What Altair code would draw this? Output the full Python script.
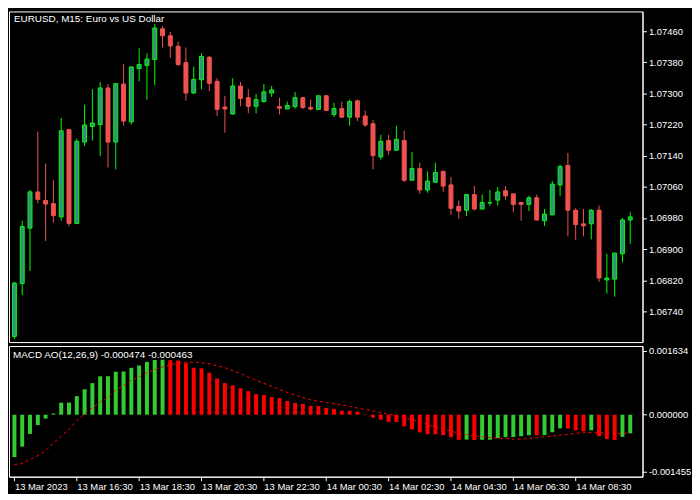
import altair as alt
import pandas as pd
import json

FONT = "Liberation Sans"

title_text = "EURUSD, M15:  Euro vs US Dollar"

opens = [1.06676, 1.06812, 1.06954, 1.07047, 1.07025, 1.07017, 1.06983, 1.07207, 1.06966, 1.07175,
         1.07215, 1.07220, 1.07314, 1.07175, 1.07324, 1.07227, 1.07364, 1.07372, 1.07387, 1.07466,
         1.07448, 1.07421, 1.07379, 1.07301, 1.07335, 1.07393, 1.07331, 1.07265, 1.07247, 1.07319,
         1.07289, 1.07267, 1.07279, 1.07301, 1.07266, 1.07260, 1.07266, 1.07289, 1.07264, 1.07259,
         1.07294, 1.07246, 1.07261, 1.07239, 1.07281, 1.07242, 1.07222, 1.07137, 1.07179, 1.07154,
         1.07179, 1.07077, 1.07107, 1.07052, 1.07072, 1.07100, 1.07065, 1.07010, 1.07000, 1.07040,
         1.07003, 1.07019, 1.07026, 1.07050, 1.07042, 1.07020, 1.07015, 1.07032, 1.06973, 1.06988,
         1.07065, 1.07115, 1.07000, 1.06965, 1.06965, 1.07000, 1.06821, 1.06823, 1.06888, 1.06975]
highs = [1.06816, 1.06973, 1.07052, 1.07202, 1.07120, 1.07077, 1.07237, 1.07207, 1.07184, 1.07271,
         1.07311, 1.07329, 1.07324, 1.07326, 1.07376, 1.07369, 1.07416, 1.07403, 1.07478, 1.07473,
         1.07458, 1.07433, 1.07418, 1.07369, 1.07403, 1.07396, 1.07339, 1.07294, 1.07339, 1.07329,
         1.07311, 1.07299, 1.07324, 1.07319, 1.07289, 1.07279, 1.07304, 1.07291, 1.07284, 1.07294,
         1.07296, 1.07276, 1.07279, 1.07284, 1.07284, 1.07256, 1.07232, 1.07194, 1.07194, 1.07217,
         1.07204, 1.07150, 1.07122, 1.07100, 1.07122, 1.07100, 1.07085, 1.07025, 1.07042, 1.07062,
         1.07040, 1.07052, 1.07060, 1.07062, 1.07042, 1.07020, 1.07037, 1.07040, 1.07003, 1.07075,
         1.07117, 1.07147, 1.07005, 1.07003, 1.07003, 1.07012, 1.06888, 1.06890, 1.06980, 1.06995]
lows = [1.06669, 1.06782, 1.06844, 1.07018, 1.06921, 1.06968, 1.06973, 1.06959, 1.06966, 1.07165,
        1.07179, 1.07139, 1.07110, 1.07105, 1.07217, 1.07220, 1.07331, 1.07284, 1.07321, 1.07418,
        1.07391, 1.07371, 1.07281, 1.07299, 1.07311, 1.07306, 1.07242, 1.07199, 1.07246, 1.07267,
        1.07249, 1.07249, 1.07276, 1.07291, 1.07246, 1.07260, 1.07261, 1.07259, 1.07256, 1.07259,
        1.07256, 1.07239, 1.07237, 1.07217, 1.07229, 1.07214, 1.07105, 1.07130, 1.07142, 1.07154,
        1.07072, 1.07077, 1.07042, 1.07045, 1.07070, 1.07047, 1.06988, 1.06978, 1.06985, 1.07000,
        1.07003, 1.07012, 1.07012, 1.07027, 1.06995, 1.06973, 1.06998, 1.06973, 1.06960, 1.06988,
        1.07037, 1.06933, 1.06923, 1.06933, 1.06925, 1.06816, 1.06786, 1.06778, 1.06866, 1.06913]
closes = [1.06813, 1.06958, 1.07047, 1.07028, 1.07016, 1.06986, 1.07204, 1.06966, 1.07177, 1.07219,
          1.07224, 1.07314, 1.07175, 1.07325, 1.07229, 1.07368, 1.07374, 1.07388, 1.07468, 1.07448,
          1.07422, 1.07374, 1.07301, 1.07336, 1.07395, 1.07326, 1.07259, 1.07260, 1.07319, 1.07287,
          1.07267, 1.07284, 1.07304, 1.07309, 1.07262, 1.07269, 1.07289, 1.07264, 1.07260, 1.07294,
          1.07256, 1.07261, 1.07239, 1.07279, 1.07239, 1.07219, 1.07140, 1.07177, 1.07154, 1.07182,
          1.07077, 1.07107, 1.07052, 1.07075, 1.07097, 1.07062, 1.07005, 1.06998, 1.07040, 1.07003,
          1.07020, 1.07019, 1.07047, 1.07037, 1.07015, 1.07015, 1.07032, 1.06975, 1.06990, 1.07067,
          1.07112, 1.07000, 1.06963, 1.06960, 1.07000, 1.06826, 1.06826, 1.06890, 1.06975, 1.06983]

macd = [-0.00108, -0.000814, -0.00049, -0.000266, -0.0001, 0.00003, 0.000306, 0.00031, 0.000473, 0.000647,
        0.000804, 0.000979, 0.00098, 0.001096, 0.0011, 0.001195, 0.001253, 0.001345, 0.001394, 0.0014,
        0.00139, 0.00138, 0.00131, 0.001195, 0.00118, 0.00107, 0.00092, 0.000805, 0.000747, 0.000672,
        0.000598, 0.000523, 0.000498, 0.000448, 0.000423, 0.000349, 0.000299, 0.000274, 0.000224, 0.00022,
        0.000174, 0.000149, 0.0001, 0.000099, 0.000075, 0.00001, -0.000075, -0.000125, -0.000183, -0.000185,
        -0.000299, -0.000374, -0.000448, -0.000498, -0.0005, -0.000523, -0.000573, -0.00064, -0.000635, -0.000645,
        -0.00064, -0.000638, -0.000598, -0.000573, -0.00057, -0.000548, -0.000523, -0.000526, -0.00052, -0.000448,
        -0.000349, -0.000352, -0.000398, -0.000423, -0.000398, -0.000548, -0.000623, -0.000645, -0.000565, -0.000474]

signal = [-0.00127, -0.001245, -0.001145, -0.001046, -0.00092, -0.00072, -0.000548, -0.000374, -0.00015, 0.000025,
          0.000174, 0.000324, 0.000448, 0.000623, 0.000747, 0.00087, 0.00097, 0.00107, 0.001145, 0.00122,
          0.00127, 0.00132, 0.001337, 0.00134, 0.00132, 0.0013, 0.001245, 0.0012, 0.00112, 0.00105,
          0.00096, 0.00088, 0.0008, 0.00072, 0.00064, 0.00057, 0.0005, 0.00044, 0.00038, 0.00034,
          0.00031, 0.00028, 0.00025, 0.00021, 0.00017, 0.00013, 0.0001, 0.00005, 0.000012, -0.000025,
          -0.000075, -0.000125, -0.00018, -0.00026, -0.00032, -0.00037, -0.00042, -0.00047, -0.00051, -0.000535,
          -0.00056, -0.00058, -0.0006, -0.00061, -0.000623, -0.000623, -0.000605, -0.000585, -0.00056, -0.000543,
          -0.000523, -0.000498, -0.000473, -0.00046, -0.000456, -0.00046, -0.000468, -0.000473, -0.00048, -0.000463]

time_labels = ["13 Mar 2023", "13 Mar 16:30", "13 Mar 18:30", "13 Mar 20:30", "13 Mar 22:30",
               "14 Mar 00:30", "14 Mar 02:30", "14 Mar 04:30", "14 Mar 06:30", "14 Mar 08:30"]
time_tick_index = [0, 8, 16, 24, 32, 40, 48, 56, 64, 72]
price_ticks = [1.0674, 1.0682, 1.0690, 1.0698, 1.0706, 1.0714, 1.0722, 1.0730, 1.0738, 1.0746]
macd_ticks = [0.001634, 0.0, -0.001455]

n = len(opens)
df = pd.DataFrame({"i": list(range(n)), "open": opens, "high": highs, "low": lows, "close": closes})
df["dir"] = ["up" if c >= o else "down" for o, c in zip(opens, closes)]

mdf = pd.DataFrame({"i": list(range(n)), "macd": macd, "signal": signal, "zero": [0.0] * n})
mdf["dir"] = ["up" if k == 0 or macd[k] >= macd[k - 1] else "down" for k in range(n)]

macd_text = f"MACD AO(12,26,9) {macd[-1]:.6f} {signal[-1]:.6f}"

W = 640
x_scale = alt.Scale(domain=[-0.0625, n - 0.0625], nice=False, zero=False)
y_scale = alt.Scale(domain=[1.066614, 1.075105], nice=False, zero=False)
m_scale = alt.Scale(domain=[-0.00158, 0.00175], nice=False, zero=False)

FS = 9.5
TFS = 10

price_axis = alt.Axis(orient="right", values=price_ticks, format=".5f", title=None, grid=False,
                      tickSize=4, labelPadding=2, labelFlush=False, labelOverlap=False)

base = alt.Chart(df).encode(x=alt.X("i:Q", scale=x_scale, axis=None))
wick = base.mark_rule(strokeWidth=1).encode(
    y=alt.Y("low:Q", scale=y_scale, axis=price_axis),
    y2="high:Q",
    color=alt.Color("dir:N", scale=alt.Scale(domain=["up", "down"], range=["#00FF00", "#EF5350"]), legend=None),
)
body = base.mark_bar(size=4, strokeWidth=1).encode(
    y=alt.Y("open:Q", scale=y_scale, axis=price_axis),
    y2="close:Q",
    fill=alt.Fill("dir:N", scale=alt.Scale(domain=["up", "down"], range=["#3A8C86", "#EF5350"]), legend=None),
    stroke=alt.Stroke("dir:N", scale=alt.Scale(domain=["up", "down"], range=["#00FF00", "#EF5350"]), legend=None),
)
title_mark = alt.Chart(pd.DataFrame({"t": [title_text]})).mark_text(
    align="left", baseline="middle", color="white", font=FONT, fontSize=TFS
).encode(x=alt.value(5), y=alt.value(8), text="t:N")

top = alt.layer(wick, body, title_mark).properties(width=W, height=334)

x_label_expr = json.dumps(time_labels) + "[round(datum.value / 8)]"
time_axis = alt.Axis(values=time_tick_index, labelExpr=x_label_expr, title=None, grid=False,
                     tickSize=4, labelPadding=1, labelAlign="left", labelBaseline="top",
                     labelFlush=False, labelOverlap=False, labelBound=False)
macd_axis = alt.Axis(orient="right", values=macd_ticks, title=None, grid=False, tickSize=4, labelPadding=2,
                     labelFlush=False, labelOverlap=False,
                     labelExpr="datum.value < 0 ? '-' + format(-datum.value, '.6f') : format(datum.value, '.6f')")

bars = alt.Chart(mdf).mark_bar(size=4).encode(
    x=alt.X("i:Q", scale=x_scale, axis=time_axis),
    y=alt.Y("zero:Q", scale=m_scale, axis=macd_axis),
    y2="macd:Q",
    color=alt.Color("dir:N", scale=alt.Scale(domain=["up", "down"], range=["#32CD32", "#FF0000"]), legend=None),
)
sig = alt.Chart(mdf).mark_line(color="#FF0000", strokeWidth=1, strokeDash=[3, 3]).encode(
    x=alt.X("i:Q", scale=x_scale, axis=time_axis),
    y=alt.Y("signal:Q", scale=m_scale, axis=macd_axis),
)
macd_label = alt.Chart(pd.DataFrame({"t": [macd_text]})).mark_text(
    align="left", baseline="middle", color="white", font=FONT, fontSize=TFS
).encode(x=alt.value(4), y=alt.value(9), text="t:N")

bottom = alt.layer(bars, sig, macd_label).properties(width=W, height=132)

chart = (
    alt.vconcat(top, bottom, spacing=2)
    .resolve_scale(color="independent", x="independent", y="independent")
    .properties(padding={"left": 0, "top": 0, "right": 0, "bottom": 0})
    .configure(background="black")
    .configure_view(stroke="white", strokeWidth=1)
    .configure_axis(labelColor="white", tickColor="white", domainColor="white", labelFont=FONT,
                    labelFontSize=FS, domainWidth=1, tickWidth=1)
)

chart.save("out.html", embed_options={"renderer": "svg", "actions": False})
